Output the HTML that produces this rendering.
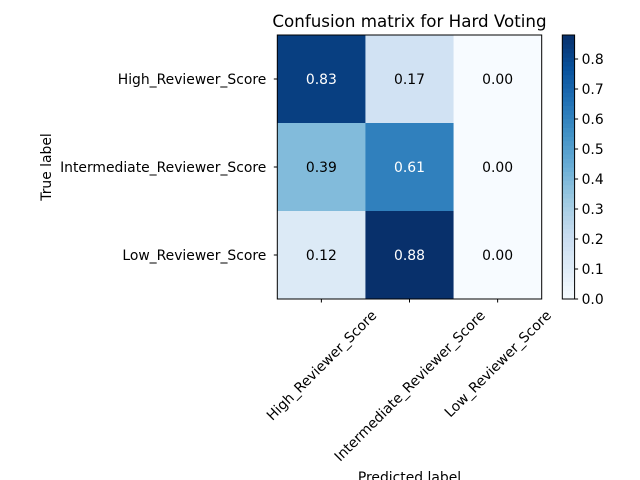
<!DOCTYPE html>
<html><head><meta charset="utf-8"><style>
body{margin:0;background:#fff;}
svg{display:block;font-family:"DejaVu Sans","Liberation Sans",sans-serif;}
</style></head><body>
<svg id="chart" width="640" height="480">
<text x="409.5" y="27" font-size="16.7" text-anchor="middle">Confusion matrix for Hard Voting</text>
<g id="cells"></g>
<g id="axes"></g>
<g id="cbar"></g>
<text x="409.5" y="482" font-size="13.9" text-anchor="middle">Predicted label</text>
<text transform="translate(51,167) rotate(-90)" font-size="13.9" text-anchor="middle">True label</text>
</svg>
<script>
const rowLabels = ["High_Reviewer_Score","Intermediate_Reviewer_Score","Low_Reviewer_Score"];
const colLabels = ["High_Reviewer_Score","Intermediate_Reviewer_Score","Low_Reviewer_Score"];
const values = [[0.83,0.17,0.00],[0.39,0.61,0.00],[0.12,0.88,0.00]];
const cbarTicks = [0.0,0.1,0.2,0.3,0.4,0.5,0.6,0.7,0.8];

const NS="http://www.w3.org/2000/svg";
const FS=13.9;
const L=277.3,R=541.7,T=35,B=299;
const vmin=0, vmax=Math.max(...values.flat());
const nC=colLabels.length,nR=rowLabels.length;
const cw=(R-L)/nC, ch=(B-T)/nR;
const xCell=j=>L+j*cw, yCell=i=>T+i*ch;
const stops=["#f7fbff","#deebf7","#c6dbef","#9ecae1","#6baed6","#4292c6","#2171b5","#08519c","#08306b"];
function hex(h){return [1,3,5].map(k=>parseInt(h.substr(k,2),16));}
function blues(t){t=Math.max(0,Math.min(1,t));const p=t*8,k=Math.min(7,Math.floor(p)),f=p-k;
 const a=hex(stops[k]),b=hex(stops[k+1]);return "rgb("+a.map((v,i)=>Math.round(v+(b[i]-v)*f)).join(",")+")";}
function el(tag,attrs,parent,text){const e=document.createElementNS(NS,tag);for(const k in attrs)e.setAttribute(k,attrs[k]);if(text!==undefined)e.textContent=text;parent.appendChild(e);return e;}
const cells=document.getElementById('cells'),axes=document.getElementById('axes'),cbar=document.getElementById('cbar');
values.forEach((row,i)=>row.forEach((v,j)=>{
 const t=(v-vmin)/(vmax-vmin);
 const r=el('rect',{x:xCell(j),y:yCell(i),width:cw+0.5,height:ch+0.5,fill:blues(t)},cells);
 
 
 const tx=el('text',{x:xCell(j)+cw/2,y:yCell(i)+ch/2+5,'font-size':FS,'text-anchor':'middle'},cells,v.toFixed(2));
 tx.style.fill=(v>vmax/2)?'#ffffff':'#000000';
 
 
}));
el('rect',{x:L,y:T,width:R-L,height:B-T,fill:'none',stroke:'#000','stroke-width':1},axes);
rowLabels.forEach((lab,i)=>{const y=yCell(i)+ch/2;
 el('line',{x1:L-3.5,x2:L,y1:y,y2:y,stroke:'#000'},axes);
 const t=el('text',{x:L-11,y:y+5,'font-size':FS,'text-anchor':'end'},axes,lab);
 
 
});
colLabels.forEach((lab,j)=>{const x=xCell(j)+cw/2;
 el('line',{x1:x,x2:x,y1:B,y2:B+3.5,stroke:'#000'},axes);
 const t=el('text',{x:0,y:0,'font-size':FS,'text-anchor':'middle'},axes,lab);
 const w=t.getComputedTextLength(), h=FS*1.16;
 const bh=(w+h)/Math.SQRT2;
 const cy0=B+8+bh/2;
 t.setAttribute('transform','translate('+x+','+cy0+') rotate(-45) translate(0,'+(FS*0.36)+')');
 
 
});
// colorbar
const cx=562.3,cwid=12.3;
const cy=v=>B-(v-vmin)/(vmax-vmin)*(B-T);
const N=60;for(let k=0;k<N;k++){const v0=vmin+(vmax-vmin)*k/N,v1=vmin+(vmax-vmin)*(k+1)/N;
 el('rect',{x:cx,y:cy(v1),width:cwid,height:cy(v0)-cy(v1)+0.6,fill:blues((v0+v1)/2/vmax)},cbar);}
el('rect',{x:cx,y:T,width:cwid,height:B-T,fill:'none',stroke:'#000'},cbar);
cbarTicks.forEach(v=>{const y=cy(v);
 el('line',{x1:cx+cwid,x2:cx+cwid+3.5,y1:y,y2:y,stroke:'#000'},cbar);
 const t=el('text',{x:cx+cwid+7,y:y+5,'font-size':FS},cbar,v.toFixed(1));
 
 
});
</script>
</body></html>
